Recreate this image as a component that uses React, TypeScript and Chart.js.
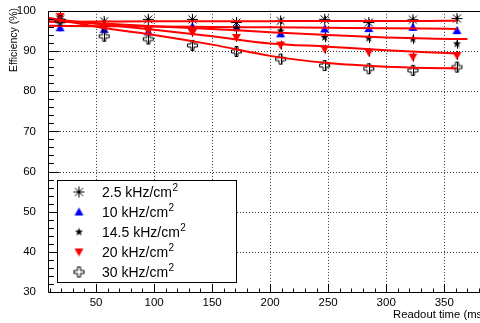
import React, { useEffect, useRef } from 'react';
import { Chart, registerables } from 'chart.js';

Chart.register(...registerables);

// ---- data ----
const readoutTimes = [19, 57, 95, 133, 171, 209, 247, 285, 323, 361];

const eff25 = [97.8, 97.4, 97.9, 97.9, 97.1, 97.5, 97.9, 97.1, 97.8, 98.1];
const eff10 = [95.8, 95.4, 94.8, 96.1, 95.9, 94.3, 95.5, 95.6, 95.9, 95.1];
const eff145 = [97.5, 96.0, 95.5, 95.4, 95.7, 95.0, 93.4, 93.2, 93.0, 91.8];
const eff20 = [98.6, 96.1, 95.1, 94.6, 93.4, 91.5, 90.5, 89.7, 88.5, 88.9];
const eff30 = [97.6, 93.7, 93.0, 91.4, 89.9, 88.0, 86.4, 85.6, 85.2, 86.0];

const err25 = [0.8, 0.8, 0.8, 0.8, 0.8, 0.8, 0.8, 0.8, 0.8, 0.8];
const err10 = [0.9, 0.9, 0.9, 0.9, 0.9, 0.9, 0.9, 0.9, 0.9, 0.9];
const err145 = [1.2, 1.2, 1.2, 1.2, 1.2, 1.2, 1.2, 1.2, 1.2, 1.2];
const err20 = [1.1, 1.1, 1.1, 1.1, 1.1, 1.1, 1.1, 1.1, 1.1, 1.1];
const err30 = [1.3, 1.3, 1.3, 1.3, 1.3, 1.3, 1.3, 1.3, 1.3, 1.3];

const fitX = [9, 60, 100, 150, 200, 250, 300, 335, 361];
const fitX145 = [9, 60, 100, 150, 200, 250, 300, 335, 361, 370];
const fit25 = [97.3, 97.35, 97.4, 97.4, 97.45, 97.5, 97.5, 97.5, 97.55];
const fit10 = [96.3, 96.2, 96.1, 96.0, 95.9, 95.8, 95.7, 95.6, 95.5];
const fit145 = [97.4, 96.8, 96.2, 95.5, 94.7, 94.0, 93.4, 93.1, 93.0, 93.0];
const fit20 = [98.1, 96.5, 95.3, 93.7, 91.9, 91.1, 90.2, 89.7, 89.4];
const fit30 = [98.3, 95.6, 94.0, 91.6, 88.8, 87.0, 86.1, 85.8, 85.7];

const rateLabels = ['2.5', '10', '14.5', '20', '30'];
const xMajorTicks = [50, 100, 150, 200, 250, 300, 350];
const yMajorTicks = [30, 40, 50, 60, 70, 80, 90, 100];
const xTitle = 'Readout time (ms)';
const yTitle = 'Efficiency (%)';

// ---- layout ----
const W = 500;
const H = 323;
const AREA_LEFT = 48;
const AREA_TOP = 10;
const AREA_RIGHT = 486;
const AREA_BOTTOM = 292;
const FONT = '"Liberation Sans", Arial, Helvetica, sans-serif';

type MarkerKind = 'asterisk' | 'triUp' | 'star' | 'triDown' | 'cross';

function makeMarker(kind: MarkerKind): HTMLCanvasElement {
  const s = 15;
  const c = document.createElement('canvas');
  c.width = s;
  c.height = s;
  const g = c.getContext('2d')!;
  const m = s / 2;
  g.lineWidth = 1;
  if (kind === 'asterisk') {
    g.strokeStyle = '#000';
    g.beginPath();
    g.moveTo(m, m - 5.5); g.lineTo(m, m + 5.5);
    g.moveTo(m - 5.5, m); g.lineTo(m + 5.5, m);
    g.moveTo(m - 4, m - 4); g.lineTo(m + 4, m + 4);
    g.moveTo(m - 4, m + 4); g.lineTo(m + 4, m - 4);
    g.stroke();
  } else if (kind === 'triUp') {
    g.fillStyle = '#0000ff';
    g.beginPath();
    g.moveTo(m, m - 4.5); g.lineTo(m + 4.5, m + 3.5); g.lineTo(m - 4.5, m + 3.5);
    g.closePath();
    g.fill();
  } else if (kind === 'triDown') {
    g.fillStyle = '#ff0000';
    g.beginPath();
    g.moveTo(m, m + 4.5); g.lineTo(m + 4.5, m - 3.5); g.lineTo(m - 4.5, m - 3.5);
    g.closePath();
    g.fill();
  } else if (kind === 'star') {
    g.fillStyle = '#000';
    g.beginPath();
    for (let k = 0; k < 10; k++) {
      const r = k % 2 === 0 ? 4.2 : 1.8;
      const a = -Math.PI / 2 + (k * Math.PI) / 5;
      const px = m + r * Math.cos(a);
      const py = m + r * Math.sin(a);
      if (k === 0) g.moveTo(px, py); else g.lineTo(px, py);
    }
    g.closePath();
    g.fill();
  } else if (kind === 'cross') {
    g.strokeStyle = '#000';
    const a = 1.5;
    const L = 5;
    g.beginPath();
    g.moveTo(m - a, m - L); g.lineTo(m + a, m - L); g.lineTo(m + a, m - a);
    g.lineTo(m + L, m - a); g.lineTo(m + L, m + a); g.lineTo(m + a, m + a);
    g.lineTo(m + a, m + L); g.lineTo(m - a, m + L); g.lineTo(m - a, m + a);
    g.lineTo(m - L, m + a); g.lineTo(m - L, m - a); g.lineTo(m - a, m - a);
    g.closePath();
    g.stroke();
  }
  return c;
}

export default function App() {
  const ref = useRef<HTMLCanvasElement | null>(null);

  useEffect(() => {
    document.documentElement.style.overflow = 'hidden';
    document.body.style.overflow = 'hidden';
    const canvas = ref.current;
    if (!canvas) return;

    const series = [
      { label: rateLabels[0], values: eff25, errors: err25, marker: makeMarker('asterisk'), fx: fitX, fy: fit25 },
      { label: rateLabels[1], values: eff10, errors: err10, marker: makeMarker('triUp'), fx: fitX, fy: fit10 },
      { label: rateLabels[2], values: eff145, errors: err145, marker: makeMarker('star'), fx: fitX145, fy: fit145 },
      { label: rateLabels[3], values: eff20, errors: err20, marker: makeMarker('triDown'), fx: fitX, fy: fit20 },
      { label: rateLabels[4], values: eff30, errors: err30, marker: makeMarker('cross'), fx: fitX, fy: fit30 },
    ];

    const datasets: any[] = [];
    series.forEach((s, i) => {
      datasets.push({
        label: s.label + ' kHz/cm2',
        data: readoutTimes.map((x, j) => ({ x, y: s.values[j] })),
        showLine: false,
        pointStyle: s.marker,
        pointRadius: 6,
        order: 100 - i * 2,
      });
      datasets.push({
        label: 'fit ' + s.label,
        data: s.fx.map((x, j) => ({ x, y: s.fy[j] })),
        showLine: true,
        pointRadius: 0,
        borderColor: '#ff0000',
        borderWidth: 2,
        cubicInterpolationMode: 'monotone',
        fill: false,
        order: 99 - i * 2,
      });
    });

    const rootStyle = {
      id: 'rootStyle',
      beforeDatasetsDraw(chart: any) {
        const { ctx, chartArea: a, scales } = chart;
        const xs = scales.x;
        const ys = scales.y;
        ctx.save();
        ctx.strokeStyle = '#333';
        ctx.lineWidth = 1;
        ctx.setLineDash([1, 2]);
        ctx.beginPath();
        for (const v of xMajorTicks) {
          const px = Math.round(xs.getPixelForValue(v)) + 0.5;
          ctx.moveTo(px, a.top);
          ctx.lineTo(px, a.bottom);
        }
        for (const v of yMajorTicks) {
          if (v === 30 || v === 100) continue;
          const py = Math.round(ys.getPixelForValue(v)) + 0.5;
          ctx.moveTo(a.left, py);
          ctx.lineTo(a.right, py);
        }
        ctx.stroke();
        ctx.setLineDash([]);
        ctx.strokeStyle = '#000';
        ctx.beginPath();
        series.forEach((s) => {
          s.values.forEach((v, j) => {
            const px = Math.round(xs.getPixelForValue(readoutTimes[j])) + 0.5;
            ctx.moveTo(px, ys.getPixelForValue(v + s.errors[j]));
            ctx.lineTo(px, ys.getPixelForValue(v - s.errors[j]));
          });
        });
        ctx.stroke();
        ctx.restore();
      },
      afterDatasetsDraw(chart: any) {
        const { ctx, chartArea: a, scales } = chart;
        const xs = scales.x;
        const ys = scales.y;
        ctx.save();
        ctx.strokeStyle = '#000';
        ctx.lineWidth = 1;
        ctx.beginPath();
        const L = Math.round(a.left) + 0.5;
        const T = Math.round(a.top) + 0.5;
        const B = Math.round(a.bottom) + 0.5;
        const R = Math.round(a.right) + 0.5;
        ctx.moveTo(L, T); ctx.lineTo(R, T); ctx.lineTo(R, B); ctx.lineTo(L, B); ctx.closePath();
        for (let v = 10; v <= 380; v += 10) {
          const px = Math.round(xs.getPixelForValue(v)) + 0.5;
          const len = v % 50 === 0 ? 8.5 : 4;
          ctx.moveTo(px, B);
          ctx.lineTo(px, B - len);
        }
        for (let v = 30; v <= 100; v += 2) {
          const py = Math.round(ys.getPixelForValue(v)) + 0.5;
          const len = v % 10 === 0 ? 11 : 5.5;
          ctx.moveTo(L, py);
          ctx.lineTo(L + len, py);
        }
        ctx.stroke();
        ctx.restore();
      },
      afterDraw(chart: any) {
        const { ctx, chartArea: a, scales } = chart;
        const xs = scales.x;
        ctx.save();
        ctx.fillStyle = '#000';
        ctx.font = `11.5px ${FONT}`;
        ctx.textAlign = 'center';
        ctx.textBaseline = 'alphabetic';
        for (const v of xMajorTicks) {
          ctx.fillText(String(v), xs.getPixelForValue(v), 306);
        }
        ctx.font = `11.3px ${FONT}`;
        ctx.textAlign = 'right';
        ctx.fillText(xTitle, a.right, 318);
        ctx.font = `10.5px ${FONT}`;
        ctx.save();
        ctx.translate(14, a.top - 3);
        ctx.rotate(-Math.PI / 2);
        ctx.textAlign = 'right';
        ctx.textBaseline = 'middle';
        ctx.fillText(yTitle, 0, 0);
        ctx.restore();

        const lx = 57, ly = 180, lw = 180, lh = 103;
        ctx.fillStyle = '#fff';
        ctx.fillRect(lx, ly, lw, lh);
        ctx.strokeStyle = '#000';
        ctx.lineWidth = 1;
        ctx.strokeRect(lx + 0.5, ly + 0.5, lw - 1, lh - 1);
        series.forEach((s, i) => {
          const cy = 192 + i * 20;
          ctx.drawImage(s.marker, 79 - s.marker.width / 2, cy - s.marker.height / 2);
          ctx.fillStyle = '#000';
          ctx.textAlign = 'left';
          ctx.textBaseline = 'alphabetic';
          ctx.font = `14px ${FONT}`;
          const main = `${s.label} kHz/cm`;
          ctx.fillText(main, 102, cy + 5);
          const w = ctx.measureText(main).width;
          ctx.font = `10px ${FONT}`;
          ctx.fillText('2', 102 + w + 0.5, cy - 1);
        });
        ctx.restore();
      },
    };

    const chart = new Chart(canvas, {
      type: 'scatter',
      data: { datasets },
      options: {
        animation: false,
        responsive: false,
        maintainAspectRatio: false,
        layout: { padding: { left: 0, top: AREA_TOP, right: W - AREA_RIGHT, bottom: 0 } },
        plugins: { legend: { display: false }, tooltip: { enabled: false } },
        elements: { line: { tension: 0 } },
        scales: {
          x: {
            type: 'linear',
            min: 8.6,
            max: 386,
            grid: { display: false },
            border: { display: false },
            afterFit: (s: any) => { s.height = H - AREA_BOTTOM; },
            afterBuildTicks: (s: any) => { s.ticks = xMajorTicks.map((v) => ({ value: v })); },
            ticks: { display: false },
          },
          y: {
            type: 'linear',
            min: 30,
            max: 100,
            grid: { display: false },
            border: { display: false },
            afterFit: (s: any) => { s.width = AREA_LEFT; },
            afterBuildTicks: (s: any) => { s.ticks = yMajorTicks.map((v) => ({ value: v })); },
            ticks: {
              autoSkip: false,
              color: '#000',
              padding: 4,
              font: { family: FONT, size: 11.5 },
            },
          },
        },
      },
      plugins: [rootStyle],
    });

    return () => chart.destroy();
  }, []);

  return (
    <canvas
      ref={ref}
      width={W}
      height={H}
      style={{ position: 'fixed', left: 0, top: 0, width: W, height: H, display: 'block' }}
    />
  );
}
